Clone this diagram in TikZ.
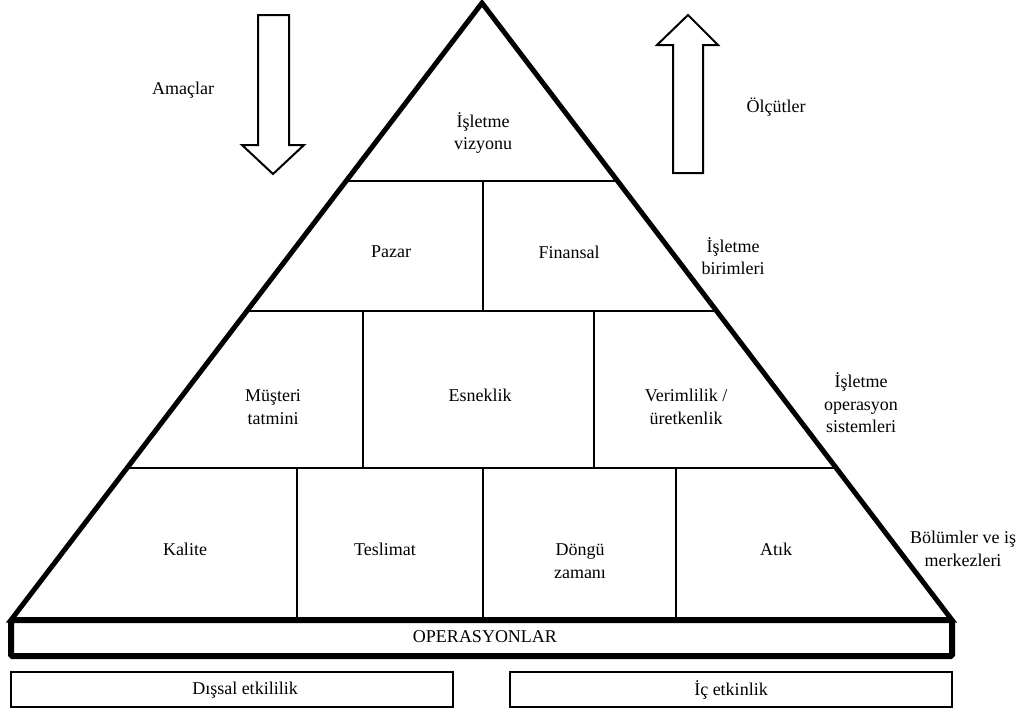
\documentclass[tikz,border=0pt]{standalone}
\usepackage{fontspec}
\setmainfont{Liberation Serif}
\begin{document}
\begin{tikzpicture}[x=1pt,y=-1pt,
  heavy/.style={line width=5pt, line join=miter},
  gridline/.style={line width=1.6pt},
  blockarrow/.style={line width=2pt, line join=miter},
  lbl/.style={font=\fontsize{18}{22.5}\selectfont, align=center, inner sep=0pt},
  plainbox/.style={draw, line width=1.6pt, minimum width=442pt, minimum height=35pt, inner sep=0pt}]
\useasboundingbox (0,0) rectangle (1029,710);

% pyramid corners
\coordinate (apex) at (482,3);
\coordinate (bl) at (11,620);
\coordinate (br) at (952,620);

% inner division lines, clipped to the pyramid
\begin{scope}
  \clip (apex) -- (bl) -- (br) -- cycle;
  \draw[gridline] (0,181) -- (1029,181);
  \draw[gridline] (0,311) -- (1029,311);
  \draw[gridline] (0,468) -- (1029,468);
  \draw[gridline] (483,181) -- (483,311);
  \draw[gridline] (363,311) -- (363,468);
  \draw[gridline] (594,311) -- (594,468);
  \draw[gridline] (297,468) -- (297,620);
  \draw[gridline] (483,468) -- (483,620);
  \draw[gridline] (676,468) -- (676,620);
\end{scope}

% pyramid outline and foundation bar
\draw[heavy] (apex) -- (bl) -- (br) -- cycle;
\draw[line width=6pt, rounded corners=1.5pt] (11,620) rectangle (952,656);
\node[lbl] (ops) at (485,637) {OPERASYONLAR};

% block arrows
\draw[blockarrow] (258,15) -- (289,15) -- (289,145) -- (304,145) -- (273,174)
  -- (242,145) -- (258,145) -- cycle;
\draw[blockarrow] (688,15) -- (718,45) -- (703,45) -- (703,173) -- (673,173)
  -- (673,45) -- (657,45) -- cycle;
\node[lbl] (goals) at (183,90) {Amaçlar};
\node[lbl] (measures) at (776,107) {Ölçütler};

% pyramid cells
\node[lbl] (vision) at (483,133) {İşletme\\vizyonu};
\node[lbl] (market) at (391,252) {Pazar};
\node[lbl] (finance) at (569,252) {Finansal};
\node[lbl] (customer) at (273,407) {Müşteri\\tatmini};
\node[lbl] (flex) at (480,395) {Esneklik};
\node[lbl] (prod) at (686,407) {Verimlilik /\\üretkenlik};
\node[lbl] (quality) at (185,549) {Kalite};
\node[lbl] (delivery) at (385,549) {Teslimat};
\node[lbl] (cycle) at (580,561) {Döngü\\zamanı};
\node[lbl] (waste) at (776,549) {Atık};

% level labels
\node[lbl] (units) at (733,256) {İşletme\\birimleri};
\node[lbl] (opsys) at (861,403) {İşletme\\operasyon\\sistemleri};
\node[lbl] (depts) at (963,549) {Bölümler ve iş\\merkezleri};

% bottom boxes
\node[plainbox] (external) at (232,689.5) {};
\node[lbl] (externaltext) at (245,690) {Dışsal etkililik};
\node[plainbox] (internal) at (731,689.5) {};
\node[lbl] (internaltext) at (731,690) {İç etkinlik};
\end{tikzpicture}
\end{document}
